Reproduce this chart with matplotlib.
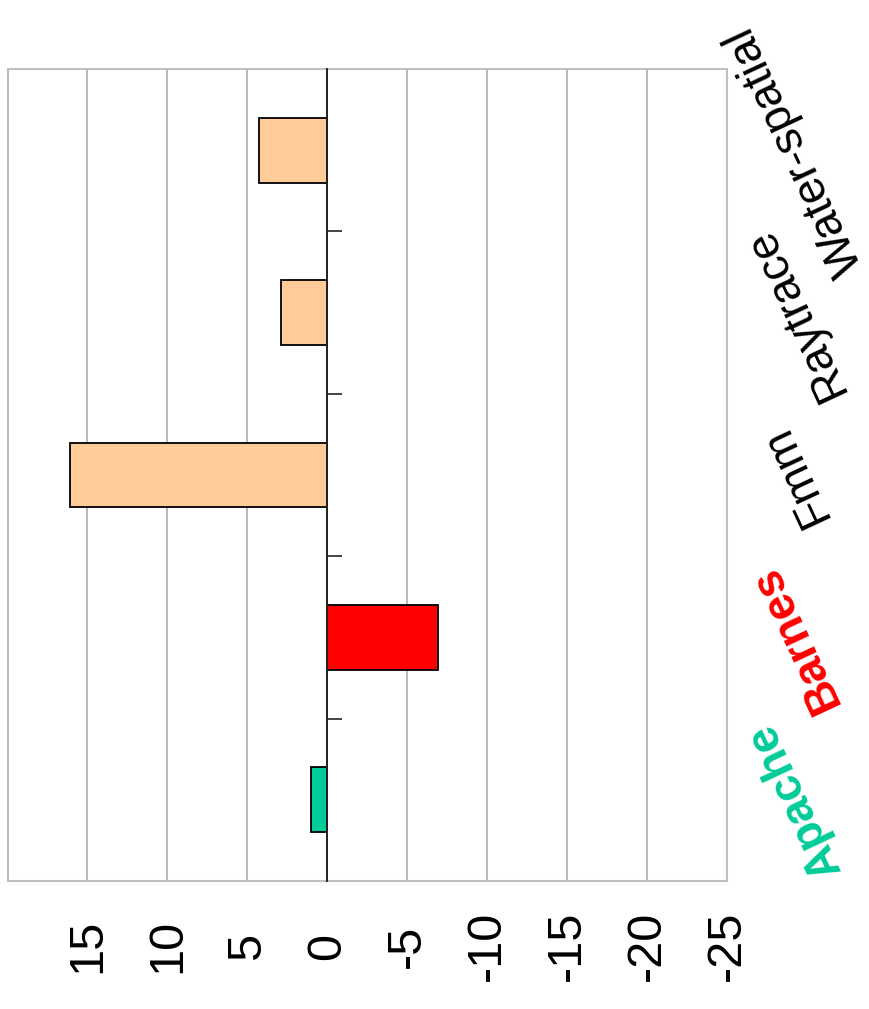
import matplotlib
matplotlib.use("Agg")
import matplotlib.pyplot as plt

plt.rcParams['font.family'] = ['Liberation Sans', 'DejaVu Sans']

# Data
categories = ['Apache', 'Barnes', 'Fmm', 'Raytrace', 'Water-spatial']
values = [1.0, -6.9, 16.1, 2.9, 4.25]
bar_colors = ['#00CC99', '#FF0000', '#FFCC99', '#FFCC99', '#FFCC99']
label_colors = ['#00CC99', '#FF0000', 'black', 'black', 'black']
label_weights = ['bold', 'bold', 'normal', 'normal', 'normal']
value_ticks = [20, 15, 10, 5, 0, -5, -10, -15, -20, -25]
value_tick_labels = ['', '15', '10', '5', '0', '-5', '-10', '-15', '-20', '-25']
boundaries = [0.5, 1.5, 2.5, 3.5]

fig = plt.figure(figsize=(8.69, 10.09), dpi=100)
ax = fig.add_axes([7.5 / 869, (1009 - 881) / 1009, 719.5 / 869, 812 / 1009])

ypos = list(range(len(categories)))
ax.barh(ypos, values, height=0.4, color=bar_colors, edgecolor='black',
        linewidth=1.3, zorder=3)

ax.set_xlim(20, -25)
ax.set_ylim(-0.5, 4.5)

# value axis (horizontal, reversed)
ax.set_xticks(value_ticks, value_tick_labels, rotation=90, fontsize=35)
for lbl in ax.get_xticklabels():
    lbl.set_va('center')
    lbl.set_ha('center')
ax.tick_params(axis='x', length=0, pad=47)
ax.xaxis.grid(True, color='#b3b3b3', linewidth=1.3)
ax.set_axisbelow(True)

# frame
for side in ['top', 'bottom', 'right']:
    ax.spines[side].set_color('#c0c0c0')
    ax.spines[side].set_linewidth(1.5)
ax.spines['left'].set_position(('data', 0))
ax.spines['left'].set_color('#222222')
ax.spines['left'].set_linewidth(1.4)
ax.spines['left'].set_zorder(4)

# category axis
ax.set_yticks(ypos, categories)
ax.set_yticks(boundaries, minor=True)
ax.tick_params(axis='y', which='major', left=False, right=False,
               labelleft=False, labelright=True, length=0, pad=49)
ax.tick_params(axis='y', which='minor', left=True, right=False,
               direction='in', length=11, width=1.2, color='#222222')
for tick, c, w in zip(ax.yaxis.get_major_ticks(), label_colors, label_weights):
    lab = tick.label2
    lab.set_rotation(115)
    lab.set_rotation_mode('anchor')
    lab.set_ha('center')
    lab.set_va('center')
    lab.set_color(c)
    lab.set_fontweight(w)
    lab.set_fontsize(33)

fig.savefig('out.png', dpi=100)
